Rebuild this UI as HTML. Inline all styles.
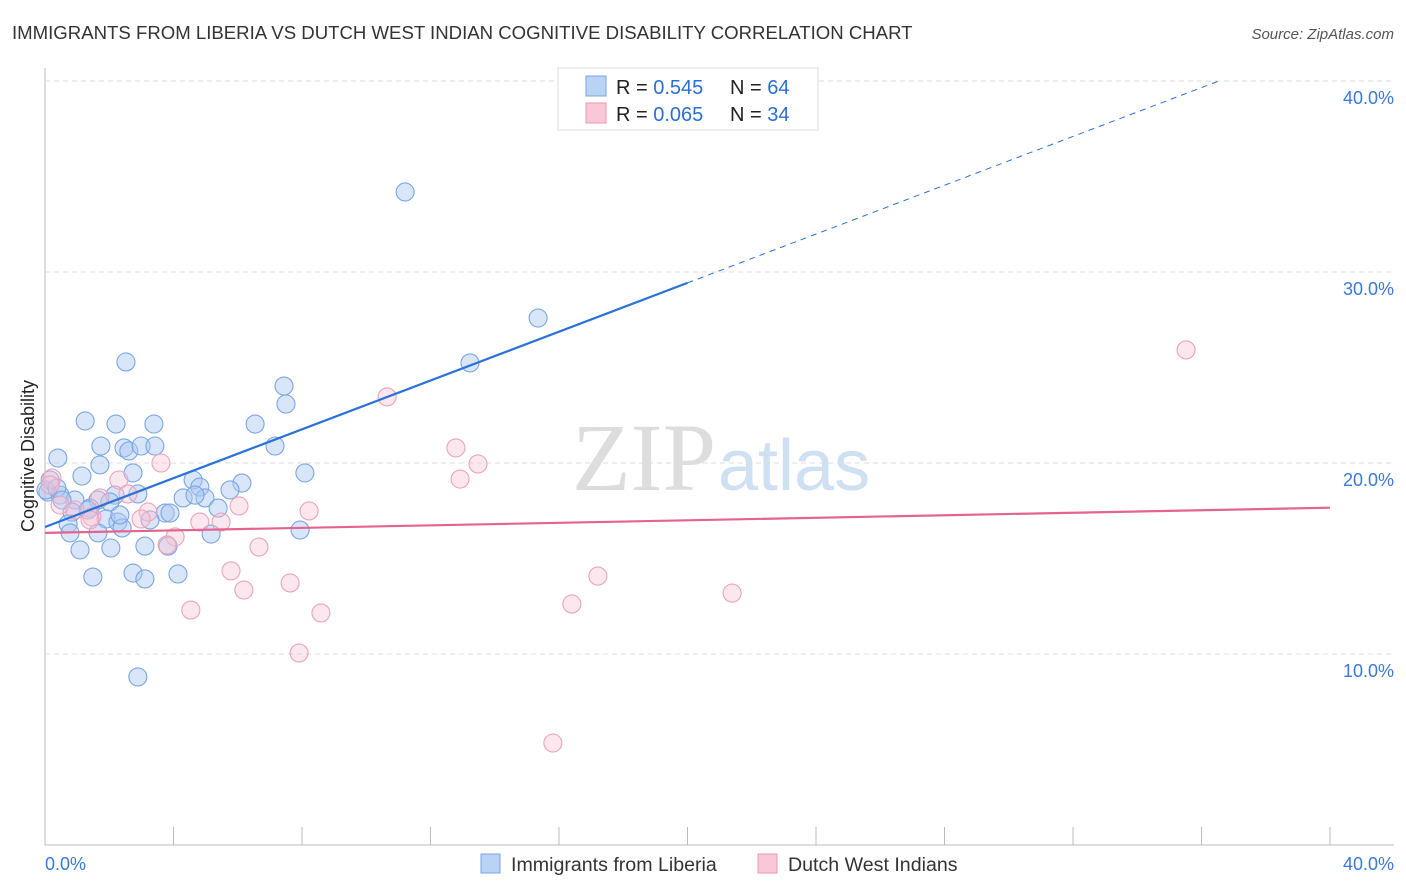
<!DOCTYPE html>
<html><head><meta charset="utf-8"><style>
body{margin:0;background:#fff;font-family:"Liberation Sans",sans-serif;}
#wrap{position:relative;width:1406px;height:892px;overflow:hidden}
</style></head><body>
<div id="wrap">
<svg id="svg" width="1406" height="892">
<text x="12" y="39" font-size="18.6" fill="#333">IMMIGRANTS FROM LIBERIA VS DUTCH WEST INDIAN COGNITIVE DISABILITY CORRELATION CHART</text>
<text x="1394" y="39" font-size="15" fill="#555" font-style="italic" text-anchor="end">Source: ZipAtlas.com</text>
<text x="34" y="456" font-size="18" fill="#222" text-anchor="middle" transform="rotate(-90 34 456)">Cognitive Disability</text>
<g id="grid"></g>
<text x="716" y="490" font-size="96" fill="#ddd" text-anchor="end" font-family="Liberation Serif">ZIP</text>
<text x="718" y="490" font-size="72" fill="#cfe0f3">atlas</text>
<g id="pts"></g>
<g id="lines"></g>
<g>
<rect x="558" y="68" width="260" height="62" fill="#fff" stroke="#ddd"/>
<rect x="586" y="76" width="20" height="20" fill="#b9d3f5" stroke="#7aa4e0"/>
<text x="616" y="94" font-size="20" fill="#222">R = <tspan fill="#2a6fd6">0.545</tspan><tspan x="730">N = </tspan><tspan fill="#2a6fd6">64</tspan></text>
<rect x="586" y="103" width="20" height="20" fill="#f9c8d6" stroke="#e89ab1"/>
<text x="616" y="121" font-size="20" fill="#222">R = <tspan fill="#2a6fd6">0.065</tspan><tspan x="730">N = </tspan><tspan fill="#2a6fd6">34</tspan></text>
</g>
<g>
<rect x="481" y="854" width="19" height="19" fill="#b9d3f5" stroke="#7aa4e0"/>
<text x="511" y="871" font-size="19.6" fill="#333">Immigrants from Liberia</text>
<rect x="758" y="854" width="19" height="19" fill="#f9c8d6" stroke="#e89ab1"/>
<text x="788" y="871" font-size="19.6" fill="#333">Dutch West Indians</text>
</g>
<text x="45" y="870" font-size="18" fill="#3b78d8">0.0%</text>
<text x="1394" y="870" font-size="18" fill="#3b78d8" text-anchor="end">40.0%</text>
</svg>
</div>
<script>
const xTicks=[0,4,8,12,16,20,24,28,32,36,40];
const yTicks=[10,20,30,40];
const yTickLabels=["10.0%","20.0%","30.0%","40.0%"];
const bluePx=[[405,192],[538,318],[126,362],[470,363],[284,386],[286,404],[85,421],[116,424],[154,424],[255,424],[101,446],[124,448],[129,451],[141,446],[155,446],[275,446],[58,458],[305,473],[82,476],[133,473],[193,480],[200,487],[242,483],[50,480],[48,492],[60,495],[183,498],[205,498],[75,500],[98,500],[115,495],[138,494],[110,502],[90,508],[218,508],[165,513],[170,513],[72,512],[88,510],[106,519],[150,520],[118,522],[68,524],[122,528],[70,533],[98,533],[211,534],[300,530],[80,550],[111,548],[145,546],[168,546],[93,577],[133,573],[145,579],[178,574],[138,677],[46,490],[57,488],[62,500],[195,495],[120,515],[230,490],[100,465]];
const pinkPx=[[1186,350],[387,397],[456,448],[478,464],[460,479],[161,463],[119,480],[239,506],[309,511],[148,512],[221,522],[200,522],[141,519],[92,517],[60,505],[128,494],[100,498],[175,537],[167,545],[259,547],[231,571],[244,590],[290,583],[598,576],[572,604],[732,593],[191,610],[321,613],[299,653],[553,743],[52,478],[75,510],[90,520],[50,485]];
const blueX=bluePx.map(p=>+((p[0]-45)/1285*40).toFixed(2));
const blueY=bluePx.map(p=>+((845-p[1])/19.1).toFixed(2));
const pinkX=pinkPx.map(p=>+((p[0]-45)/1285*40).toFixed(2));
const pinkY=pinkPx.map(p=>+((845-p[1])/19.1).toFixed(2));
const blueTrend=[16.65,0.639];
const pinkTrend=[16.34,0.033];
const X=v=>45+v/40*1285, Y=v=>845-v*19.1;
const NS="http://www.w3.org/2000/svg";
function mk(t,a,p){const e=document.createElementNS(NS,t);for(const k in a)e.setAttribute(k,a[k]);p.appendChild(e);return e;}
const grid=document.getElementById('grid');
const ax=mk('line',{x1:45,y1:68,x2:45,y2:845,stroke:'#bbb'},grid);


const bx=mk('line',{x1:45,y1:845,x2:1394,y2:845,stroke:'#bbb'},grid);


yTicks.forEach((t,i)=>{
 const l=mk('line',{x1:45,y1:Y(t),x2:1394,y2:Y(t),stroke:'#ddd','stroke-dasharray':'5,4'},grid);
 
 
 const tx=mk('text',{x:1394,y:Y(t)+23,'font-size':18,fill:'#3b78d8','text-anchor':'end'},grid);
 tx.textContent=yTickLabels[i];
 
 
});
xTicks.forEach(t=>{
 if(t===0)return;
 const l=mk('line',{x1:X(t),y1:827,x2:X(t),y2:845,stroke:'#bbb'},grid);
 
 
});
const pts=document.getElementById('pts');
blueX.forEach((x,i)=>{
 const c=mk('circle',{cx:X(x),cy:Y(blueY[i]),r:9,fill:'rgba(170,200,242,0.45)',stroke:'#7aa6e3','stroke-width':1.1},pts);
 
 
});
pinkX.forEach((x,i)=>{
 const c=mk('circle',{cx:X(x),cy:Y(pinkY[i]),r:9,fill:'rgba(248,195,212,0.4)',stroke:'#eda3b9','stroke-width':1.1},pts);
 
 
});
const lines=document.getElementById('lines');
const bl=mk('line',{x1:X(0),y1:Y(blueTrend[0]),x2:X(20),y2:Y(blueTrend[0]+20*blueTrend[1]),stroke:'#2a72d8','stroke-width':2.2},lines);


const xe=(40-blueTrend[0])/blueTrend[1];
const bd=mk('line',{x1:X(20),y1:Y(blueTrend[0]+20*blueTrend[1]),x2:X(xe),y2:Y(40),stroke:'#2a72d8','stroke-width':1,'stroke-dasharray':'6,5'},lines);


const pl=mk('line',{x1:X(0),y1:Y(pinkTrend[0]),x2:X(40),y2:Y(pinkTrend[0]+40*pinkTrend[1]),stroke:'#e4638f','stroke-width':2.2},lines);


</script>
</body></html>
